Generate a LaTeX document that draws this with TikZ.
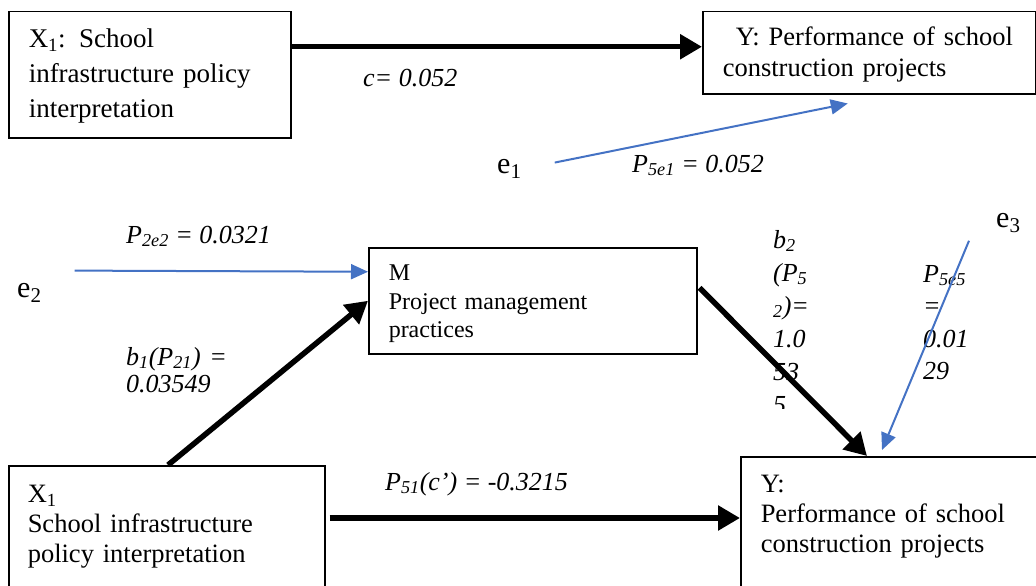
\documentclass[tikz,border=0pt]{standalone}
\usepackage{fontspec}
\setmainfont{Liberation Serif}
\usetikzlibrary{arrows.meta}
\definecolor{errblue}{RGB}{68,114,196}

\tikzset{
  box/.style={draw, line width=1.5pt, anchor=north west, align=left, inner xsep=20pt, inner ysep=0pt},
  causal/.style={line width=5.5pt, -{Triangle[length=22pt,width=24pt]}},
  errarrow/.style={errblue, line width=2pt, -{Triangle[length=17pt,width=15pt]}},
  coef/.style={anchor=base west, inner sep=0pt, align=left, font=\fontsize{26}{27}\selectfont\itshape},
  errlabel/.style={anchor=base west, inner sep=0pt, font=\fontsize{30}{32}\selectfont}
}

\begin{document}
\begin{tikzpicture}[x=1pt,y=-1pt]
\useasboundingbox (0,0) rectangle (1036,586);
\clip (0,0) rectangle (1036,586);

\node[box, text width=242pt, text height=36pt, text depth=90pt, font=\fontsize{27}{35}\selectfont] (x1top) at (8,11)
  {X\textsubscript{1}: School\\infrastructure policy\\interpretation};
\node[box, text width=293pt, text height=34pt, text depth=48pt, font=\fontsize{26.5}{31}\selectfont] (ytop) at (702,11)
  {\hspace*{13pt}Y: Performance of school\\construction projects};
\node[box, text width=288pt, text height=33pt, text depth=73pt, font=\fontsize{24}{28.5}\selectfont] (med) at (368,247)
  {M\\Project management\\practices};
\node[box, inner xsep=19pt, text width=278pt, text height=37pt, text depth=140pt, font=\fontsize{26.5}{30}\selectfont] (x1bot) at (8,465)
  {X\textsubscript{1}\\School infrastructure\\policy interpretation};
\node[box, text width=300pt, text height=36pt, text depth=140pt, font=\fontsize{26.5}{30}\selectfont] (ybot) at (740,456)
  {Y:\\Performance of school\\construction projects};

\node[errlabel] (e1) at (497,173) {e\textsubscript{1}};
\node[errlabel] (e2) at (17,297) {e\textsubscript{2}};
\node[errlabel] (e3) at (996,227) {e\textsubscript{3}};

\node[coef] (lc) at (363,86) {c= 0.052};
\node[coef] (lp5e1) at (632,172) {P\textsubscript{5e1} = 0.052};
\node[coef] (lp2e2) at (126,243) {P\textsubscript{2e2} = 0.0321};
\node[coef, text width=130pt] (lb1) at (126,365) {b\textsubscript{1}(P\textsubscript{21}) =\\0.03549};
\node[coef] (lp51) at (385,490) {P\textsubscript{51}(c') = -0.3215};
\begin{scope}
\clip (760,225) rectangle (845,408);
\node[coef, text width=60pt, font=\fontsize{26}{33}\selectfont\itshape] (lb2) at (773,248)
  {b\textsubscript{2}\\(P\textsubscript{5}\\\textsubscript{2})=\\1.0\\53\\5};
\end{scope}
\node[coef, text width=60pt, font=\fontsize{26}{32.5}\selectfont\itshape] (lp5e5) at (923,282)
  {P\textsubscript{5e5}\\=\\0.01\\29};

\draw[causal] ([shift={(0,-28)}]x1top.east) -- ([shift={(0,-6)}]ytop.west);
\draw[causal] ([shift={(160,0)}]x1bot.north west) -- (med.west);
\draw[causal] ([shift={(2,-13)}]med.east) -- ([shift={(127,0)}]ybot.north west);
\draw[causal] ([shift={(4,53)}]x1bot.north east) -- ([shift={(0,62)}]ybot.north west);
\draw[errarrow] ([shift={(33,-6)}]e1.east) -- ([shift={(-21.5,9)}]ytop.south);
\draw[errarrow] ([shift={(33,-22)}]e2.east) -- ([shift={(0,-29)}]med.west);
\draw[errarrow] ([shift={(-27,8)}]e3.south west) -- ([shift={(142,-6)}]ybot.north west);
\end{tikzpicture}
\end{document}
